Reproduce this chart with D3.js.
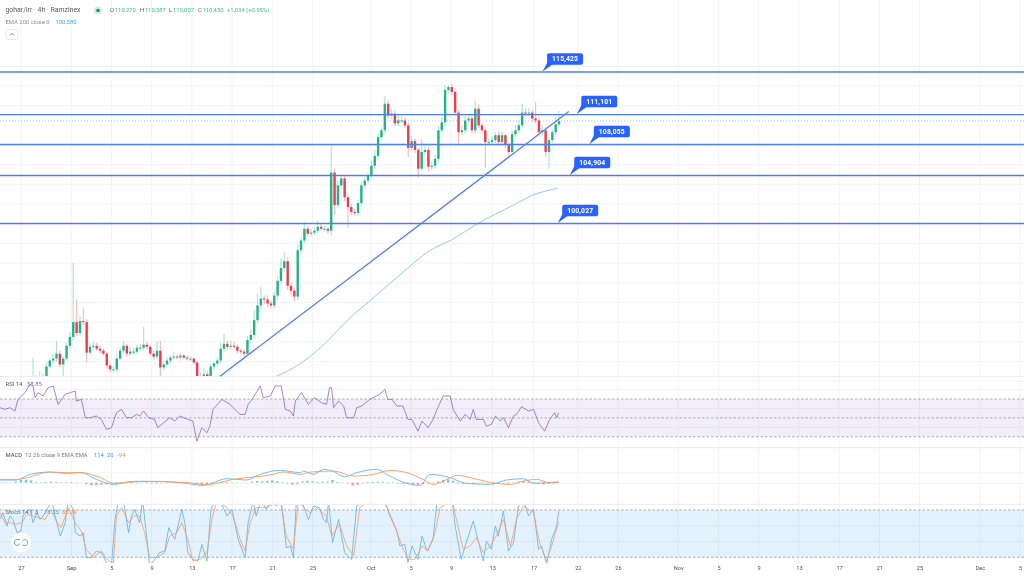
<!DOCTYPE html>
<html><head><meta charset="utf-8">
<script src="https://cdn.jsdelivr.net/npm/d3@7/dist/d3.min.js"></script>
<style>html,body{margin:0;background:#fff}svg{display:block;filter:blur(.35px)}text{font-family:Roboto,Inter,sans-serif}</style>
</head><body><svg id="c" width="1024" height="576"></svg>
<script>
// day offsets are measured from 27 Aug on the chart's session time axis
const tickLabels=["27","Sep","5","9","13","17","21","25","Oct","5","9","13","17","22","26","Nov","5","9","13","17","21","25","Dec","5"];
const tickDays=[0,5,9,13,17,21,25,29,34.8,38.8,42.8,46.9,51,55.4,59.4,65.4,69.4,73.4,77.4,81.4,85.4,89.4,95.4,99.4];
const priceGrid=[88,90,92,94,96,98,100,102,104,106,108,110,112,114,84,86,116];
const levels=[115.425,111.101,108.055,104.904,100.027];
const levelLabels=["115,425","111,101","108,055","104,904","100,027"];
const levelLabelDays=[51.95,55.35,56.6,54.65,53.45];
const lastClose=110.45;
const trendDays=[19.8,54.5];
const trendPrices=[84.5,111.4];
const firstBarDay=1.2;
const barStep=1/3;
const closes=[84.1,84.3,84.4,84.2,85.5,86.1,86.3,86.8,85.7,86.3,87.6,88.5,90.0,88.9,90.1,90.0,86.9,87.5,87.6,87.3,87.1,86.8,85.6,85.2,85.2,86.3,87.1,87.6,86.8,87.0,87.0,87.4,87.4,87.7,87.5,86.8,86.5,87.1,85.4,85.7,86.1,86.4,86.5,86.4,86.6,86.4,86.3,86.3,85.9,84.4,84.5,84.7,84.3,85.5,85.8,86.1,87.3,87.8,87.5,87.6,87.5,87.1,87.0,86.8,88.2,88.7,90.2,91.7,92.4,92.3,91.9,91.7,92.7,94.2,95.5,96.2,93.7,93.2,92.6,97.3,98.3,99.5,99.0,99.1,99.3,99.7,99.5,99.5,99.3,105.2,101.9,103.9,104.6,102.7,101.7,101.2,101.1,102.1,103.9,104.4,104.9,105.9,106.9,108.8,109.5,112.2,111.0,111.2,110.2,110.5,110.5,110.0,107.7,108.4,107.5,105.6,107.3,107.5,105.8,105.9,106.6,109.5,110.3,113.6,113.9,113.4,111.3,109.3,109.5,110.5,110.7,109.5,111.7,110.0,109.5,108.3,108.3,108.5,109.0,108.3,109.0,108.0,107.3,109.1,109.5,110.0,111.3,111.2,111.3,110.7,110.5,109.3,109.5,107.3,108.5,109.3,110.1,110.45];
const upperWicks=[2.3,.3,.6,.3,.4,.3,.5,1.3,.3,.2,.3,.5,6,2.3,.5,1.3,.3,.4,.4,.3,.3,.2,.2,.3,.3,.4,.3,.5,.2,.5,.4,.3,.4,1.8,.3,.2,.3,.9,1,.3,.3,.2,.5,.2,.3,.2,.2,.2,.1,.2,.4,.6,.3,.3,.2,.3,.6,1,.3,.5,.4,.2,.2,.2,.4,.5,1,1.2,1.2,.3,.4,.3,.4,.5,1,.9,.4,.3,.3,.6,.4,.7,.3,.4,.3,.6,.3,.3,.2,2.8,.4,.5,.3,.3,.3,.3,.3,.3,.4,.4,.3,.5,.6,.4,.3,.8,.3,.5,.3,.6,.5,.3,.3,.5,.3,.2,1.4,.5,.3,.4,.4,.4,.5,.5,.2,.3,.4,.3,.4,.5,.5,.3,.8,.4,.3,.3,.4,.4,.3,.4,.4,.2,.2,.3,.5,.5,.9,.4,.5,.3,1.7,.3,.4,.3,.3,.3,.8,1];
const lowerWicks=[.3,.3,.3,.3,.3,.2,.3,.3,.3,1.2,.2,.3,.4,.3,.3,.3,1,.2,.3,.2,.3,.2,.3,.3,.2,.3,.2,.3,.3,.2,.3,.2,.3,.3,.3,.2,.3,.3,1.4,.3,.2,.3,.2,.2,.3,.2,.2,.3,.2,.3,.3,.3,.3,.2,.3,.2,.3,.3,.3,.3,.2,.3,.2,.3,.2,.3,.4,.3,.3,.4,.4,.3,.3,.4,.3,.3,.4,.5,.5,.4,.3,.3,.3,.3,.3,.3,.2,.3,.3,.5,1,.3,.3,.4,2.1,.3,.3,.3,.3,.3,.3,.3,.3,.4,.3,.3,.3,.4,.3,.3,.3,.3,.9,.3,.3,.9,.3,.3,.5,.3,.3,.3,.3,.3,.3,.3,.3,1.3,.3,.3,.3,.3,.3,.3,.3,2.6,.3,.3,.3,.3,.3,.3,.6,.3,.3,.3,.3,.3,.3,.3,.3,.3,.3,.5,1.7,.3,.3,.2];
const emaDays=[25.4,27.5,29.8,32.7,35.2,37.7,40.7,42.9,45.4,49,50.9,53.4];
const emaValues=[84.5,85.6,87.4,90.4,92.6,94.8,97.3,98.4,100.0,101.9,102.9,103.6];
const rsiDays=[-2.1,-1.6,-1.1,-.6,-.3,.4,.9,1.2,1.4,1.7,2.2,2.7,3.2,3.7,4.4,4.9,5.4,5.5,6,6.4,6.9,7.5,8,8.5,9,9.5,10,10.5,11,11.5,11.8,12.2,12.7,13.3,13.6,14.2,14.8,15.3,15.8,16.6,17.1,17.5,18,18.5,18.8,19.1,20,20.8,21.1,21.8,22.3,22.6,23.1,23.8,24.1,24.8,25.3,25.9,26.3,26.8,27.1,27.3,27.9,28.6,29.2,29.9,30.4,30.7,30.9,31.1,31.6,32.1,32.4,33.1,33.4,33.9,34.7,35.7,36.2,36.5,36.9,37.4,38,38.5,38.9,39.5,39.9,40.5,41,41.4,42,42.7,43,43.7,44.2,44.7,45,45.3,46,46.3,46.8,47.2,47.7,48,48.5,49,49.3,49.8,50.5,51,51.5,52.1,52.6,53.1,53.3,53.5];
const rsiValues=[60.8,59,60.8,57.3,69.6,76.7,85.6,83.8,71.4,76.7,73.2,82,83.8,64.3,75,76.7,78.5,67.9,69.6,50.2,50.2,52,48.4,37.8,39.6,55.5,59,50.2,50.2,53.7,52,57.3,50.2,48.4,39.6,44.9,50.2,46.7,52,48.4,46.7,25.4,39.6,34.3,41.3,59,69.6,64.3,60.8,53.7,53.7,64.3,71.4,83.8,71.4,73.2,83.8,83.8,59,57.3,52,67.9,76.7,64.3,71.4,66.1,64.3,82,82,60.8,67.9,62.6,50.2,50.2,60.8,62.6,69.6,75,80.3,69.6,69.6,62.6,62.6,48.4,48.4,36,46.7,39.6,48.4,59,73.2,73.2,59,46.7,53.7,48.4,59,48.4,48.4,41.3,43.1,52,46.7,50.2,39.6,52,53.7,61.9,57.3,59,44.9,36,48.4,55.5,50.2,55.5];
const macdDays=[-2.1,-.5,.9,2.9,4.5,6,7.5,9.2,11.2,13.8,16.5,18.1,20.5,22.4,23.8,25.8,27.8,28.1,29.1,30.1,31,32.2,33.4,35.4,36.4,38,39.7,40.7,42.7,44.3,46.7,48.3,50,51,52.4,53.5];
const macdValues=[400,400,1250,1600,1400,1500,500,-250,200,200,-100,-400,600,400,1250,1850,1500,1750,1250,2000,1750,900,1500,2000,1250,100,-400,1250,750,-100,-250,400,600,-100,0,100];
const signalDays=[-2.1,-.4,2.9,4.5,6,8,9.2,12.2,16.5,18.5,21.1,25.1,26.1,27.8,28.8,31.1,33.1,35.1,36.7,38.4,40,41,42.4,43.4,45.4,47.3,48.7,50,51.3,52.6,53.5];
const signalValues=[500,500,1600,1500,1500,700,-100,200,0,-300,500,1250,1600,1250,1600,1750,1000,1250,1850,1500,500,-250,500,1100,500,-100,-250,250,500,0,100];
const histogramValues=[40,40,30,200,400,450,350,120,60,100,150,100,60,80,100,60,30,-200,-350,-400,-300,-250,-150,100,120,100,80,60,40,100,-100,-120,-80,-60,-40,-80,-60,-40,20,-150,-250,-200,-100,60,150,100,60,40,30,-30,150,250,200,300,350,250,100,-100,-300,-200,200,300,200,100,150,150,400,100,50,-80,-400,-300,-80,100,120,150,120,100,80,-100,-150,-200,-250,-300,-250,-100,-60,200,400,500,300,-100,-150,-100,-200,-100,-50,-100,-200,-100,-80,-150,-60,150,250,200,100,-100,-250,-200,-100,60];
const kDays=[-2.1,-1.8,-1.4,-1.1,-.8,-.4,0,.2,.6,.9,1.2,1.6,1.9,2.2,2.7,3.05,3.4,3.9,4.4,4.7,5.2,5.4,5.9,6.2,6.5,7,7.5,8,8.5,9,9.35,9.7,10.2,10.7,11,11.3,11.8,12.1,12.5,12.8,13.3,13.8,14.3,14.7,15.3,15.7,16,16.3,16.6,17.1,17.6,18,18.5,18.9,19.3,19.8,20.5,21,21.6,22.3,22.6,23.1,23.4,23.9,24.4,24.9,25.4,25.9,26.4,26.8,27.1,27.4,27.9,28.6,29.1,29.7,30.1,30.4,30.6,31,31.6,32.2,32.9,33.4,34.4,35.4,36.2,36.7,37.4,37.7,38.2,38.5,38.9,39.5,39.9,40.4,41,41.4,41.7,42.9,43.2,43.8,44.3,45,45.7,46,46.3,46.8,47.2,47.5,48,48.5,49,49.5,50,50.5,51,51.5,51.8,52.3,52.8,53.3,53.5];
const kValues=[68.1,76.6,59.7,72.4,68.1,51.3,53.4,72.4,78.7,80.8,63.9,76.6,68.1,72.4,83,92,72.4,47,63.9,92,80.8,51.3,47,51.3,19.6,19.6,28,25.9,13.3,9,68.1,92,92,51.3,72.4,80.8,63.9,92,47,9,17.5,26,28,57.6,42.8,63.9,80.8,63.9,26,17.5,15.4,36.5,15.4,80.8,92,92,72.4,80.8,42.8,19.6,63.9,92,72.4,92,80.8,92,85,92,32,34,19.6,92,92,68.1,85,83,68.1,63.9,92,38.6,68.1,26,17.5,85,92,92,92,72.4,53.4,34.4,36.5,13.3,34.4,17.5,47,28,42.8,92,92,92,59.7,17.5,38.6,66,30.2,15.4,40.7,30.2,59.7,47,78.7,28,38.6,85,92,72.4,80.8,30.2,34.4,11.2,42.8,59.7,78.35];
const dDays=[-2.1,-1.6,-1.1,-.6,.1,.6,1.2,1.7,2.4,3,3.5,4,4.7,5.4,6,6.5,7.2,8,8.7,9.2,9.5,10,10.7,11.2,11.8,12.3,12.8,13.5,14.3,14.8,15.5,16,16.6,17.1,17.8,18.5,19,19.5,20.5,21.1,21.8,22.3,22.8,23.4,24.4,25.8,26.4,27.1,27.6,28.3,28.8,29.4,30.4,30.9,31.7,32.4,33.1,33.7,34.7,36,36.5,37.2,37.9,38.5,39.2,39.9,40.5,41.2,41.7,42.9,43.4,44,44.7,45.3,46,46.7,47.3,48,48.7,49.3,50,51,51.6,52.3,52.8,53.5];
const dValues=[76.6,63.9,63.9,61.8,63.9,74.5,72.4,70.3,68.1,80.8,66,57.6,83,63.9,53.4,30.2,19.6,28,15.4,13.3,72.4,83,63.9,72.4,72.4,51.3,19.6,19.6,26,47,51.3,63.9,42.8,15.4,17.5,26,68.1,92,83,72.4,42.8,28,63.9,83,83,92,47,30,92,80.8,76.6,83,72.4,47,61.8,34.4,21.7,83,92,92,80.8,59.7,34.4,17.5,17.5,34.4,28,51.3,83,92,63.9,30.2,34.4,44.9,26,34.4,47,68.1,34.4,68.1,85,76.6,38.6,15.4,34.4,65.29];
const rsiBands=[70,50,30];
const rsiGrid=[80,60,40];
const macdGrid=[1500,-100];
const stochBands=[80,20];
const stochGrid=[60,40];
const headerValues=["O","110,270","H","110,587","L","110,007","C","110,450","+1,034 (+0.95%)"];

const W=1024;
const x=d3.scaleLinear().domain([0,99.4]).range([21,1020]);
const yP=d3.scaleLinear().domain([100.027,115.425]).range([223.5,72]);
const yR=d3.scaleLinear().domain([30,70]).range([436.8,399]);
const yM=d3.scaleLinear().domain([0,1500]).range([482.7,472.7]);
const yS=d3.scaleLinear().domain([20,80]).range([557.3,510]);
const UP="#22b488",DN="#f23a4a",LV="#4d7ff2";
const svg=d3.select("#c");
const defs=svg.append("defs");
function clip(id,y0,y1){defs.append("clipPath").attr("id",id).append("rect").attr("x",0).attr("y",y0).attr("width",W).attr("height",y1-y0);}
clip("cm",0,376);clip("cr",377,447);clip("cd",448,504);clip("cs",505,563);

// grid
const grid=svg.append("g").attr("stroke","#f3f4f6").attr("stroke-width",1);
grid.selectAll(".v").data(tickDays).join("line").attr("x1",d=>x(d)).attr("x2",d=>x(d)).attr("y1",0).attr("y2",563);
function hg(arr,sc){grid.selectAll(null).data(arr).join("line").attr("x1",0).attr("x2",W).attr("y1",d=>sc(d)).attr("y2",d=>sc(d));}
hg(priceGrid,yP);hg(rsiGrid,yR);hg(macdGrid,yM);hg(stochGrid,yS);

// RSI / stoch backgrounds
svg.append("rect").attr("x",0).attr("width",W).attr("y",yR(70)).attr("height",yR(30)-yR(70)).attr("fill","#7e57c2").attr("opacity",.1);
svg.append("rect").attr("x",0).attr("width",W).attr("y",yS(80)).attr("height",yS(20)-yS(80)).attr("fill","#2196f3").attr("opacity",.12);
const dash=svg.append("g").attr("stroke","#a5a7ad").attr("stroke-width",.9).attr("stroke-dasharray","2.5 2");
dash.selectAll(null).data(rsiBands).join("line").attr("x1",0).attr("x2",W).attr("y1",d=>yR(d)).attr("y2",d=>yR(d));
dash.selectAll(null).data(stochBands).join("line").attr("x1",0).attr("x2",W).attr("y1",d=>yS(d)).attr("y2",d=>yS(d));
// separators
svg.append("g").attr("stroke","#eceef1").attr("stroke-width",1.2).selectAll("line").data([376.5,447.6,504.3]).join("line").attr("x1",0).attr("x2",W).attr("y1",d=>d).attr("y2",d=>d);

// candles
const bars=closes.map((c,i)=>{const o=i?closes[i-1]:c;return{day:firstBarDay+i*barStep,o,c,h:Math.max(o,c)+upperWicks[i],l:Math.min(o,c)-lowerWicks[i]};});
const cg=svg.append("g").attr("clip-path","url(#cm)");
cg.selectAll(".w").data(bars).join("line").attr("x1",d=>x(d.day)).attr("x2",d=>x(d.day)).attr("y1",d=>yP(d.h)).attr("y2",d=>yP(d.l))
  .attr("stroke",d=>d.c>=d.o?UP:DN).attr("stroke-opacity",.35).attr("stroke-width",1.2);
cg.selectAll(".b").data(bars).join("rect").attr("x",d=>x(d.day)-1.2).attr("width",2.4)
  .attr("y",d=>Math.min(yP(d.o),yP(d.c))).attr("height",d=>Math.max(1,Math.abs(yP(d.o)-yP(d.c))))
  .attr("fill",d=>d.c>=d.o?UP:DN);

// EMA
const ln=(sc,days)=>d3.line().x((d,i)=>x(days[i])).y(d=>sc(d));
cg.append("path").attr("d",ln(yP,emaDays).curve(d3.curveMonotoneX)(emaValues)).attr("fill","none").attr("stroke","#90caf9").attr("stroke-width",1);

// current price dotted
svg.append("line").attr("x1",0).attr("x2",W).attr("y1",yP(lastClose)).attr("y2",yP(lastClose)).attr("stroke","#22b488").attr("stroke-opacity",.5).attr("stroke-dasharray","1 2");

// levels
svg.append("g").selectAll("line").data(levels).join("line").attr("x1",0).attr("x2",W).attr("y1",d=>yP(d)).attr("y2",d=>yP(d)).attr("stroke",LV).attr("stroke-width",1.3);
// trend
svg.append("path").attr("d",ln(yP,trendDays)(trendPrices)).attr("stroke",LV).attr("stroke-width",1.3).attr("fill","none");
// callouts
const co=svg.append("g").selectAll("g").data(levels).join("g").attr("transform",(d,i)=>`translate(${x(levelLabelDays[i])},${yP(d)})`);
co.append("path").attr("d","M-0.5,-0.5L4.5,-10L10,-8Z").attr("fill","#2962ff");
co.append("rect").attr("x",4).attr("y",-18.7).attr("width",36).attr("height",11.5).attr("rx",2).attr("fill","#2962ff");
co.append("text").attr("x",22).attr("y",-10.6).attr("text-anchor","middle").attr("fill","#fff").attr("font-size",6.8).attr("font-weight",700).attr("letter-spacing",.15).text((d,i)=>levelLabels[i]);

// RSI
svg.append("path").attr("clip-path","url(#cr)").attr("d",ln(yR,rsiDays)(rsiValues)).attr("fill","none").attr("stroke","#8a66cc").attr("stroke-width",.8);

// MACD
const md=svg.append("g").attr("clip-path","url(#cd)");
md.selectAll("rect").data(histogramValues).join("rect").attr("x",(d,i)=>x(-2+i*.5)-1.2).attr("width",2.4)
  .attr("y",d=>Math.min(yM(d),yM(0))).attr("height",d=>Math.abs(yM(d)-yM(0)))
  .attr("fill",d=>d>=0?"#26a69a":"#ef5350").attr("opacity",.6);
md.append("path").attr("d",ln(yM,macdDays).curve(d3.curveMonotoneX)(macdValues)).attr("fill","none").attr("stroke","#64b5f6").attr("stroke-width",.9);
md.append("path").attr("d",ln(yM,signalDays).curve(d3.curveMonotoneX)(signalValues)).attr("fill","none").attr("stroke","#fb9a5c").attr("stroke-width",.9);

// Stoch
const st=svg.append("g").attr("clip-path","url(#cs)");
st.append("path").attr("d",ln(yS,kDays)(kValues)).attr("fill","none").attr("stroke","#58aef2").attr("stroke-width",.8);
st.append("path").attr("d",ln(yS,dDays)(dValues)).attr("fill","none").attr("stroke","#fb9a5c").attr("stroke-width",.8);

// x axis
const ax=svg.append("g").attr("transform","translate(0,565)").call(d3.axisBottom(x).tickValues(tickDays).tickSize(0).tickFormat((d,i)=>tickLabels[i]));
ax.select(".domain").remove();
ax.selectAll("text").attr("font-size",5.6).attr("fill","#4a4e57").attr("font-family","Roboto,Inter,sans-serif").attr("dy",".4em");

// header texts
function T(px,py,s,c,fs=5.9,w=400){return svg.append("text").attr("x",px).attr("y",py).attr("fill",c).attr("font-size",fs).attr("font-weight",w).text(s);}
T(5.5,12.3,"gohar/irr · 4h · Ramzinex","#555a63",6.9);
svg.append("circle").attr("cx",98).attr("cy",10.5).attr("r",4).attr("fill","#26a69a").attr("opacity",.2);
svg.append("circle").attr("cx",98).attr("cy",10.5).attr("r",1.8).attr("fill","#089981");
const G="#3cbf98";
T(110,12,headerValues[0],"#555a63");T(114.8,12,headerValues[1],G);
T(140,12,headerValues[2],"#555a63");T(144.8,12,headerValues[3],G);
T(169,12,headerValues[4],"#555a63");T(173,12,headerValues[5],G);
T(198,12,headerValues[6],"#555a63");T(202.5,12,headerValues[7],G);
T(227,12,headerValues[8],G);
T(5.5,24.3,"EMA 200 close 0","#8a8e96");
T(55.5,24.3,"100,580","#42a5f5");
svg.append("rect").attr("x",6).attr("y",29.5).attr("width",12).attr("height",10).attr("rx",1.5).attr("fill","#fff").attr("stroke","#dcdee2").attr("stroke-width",.7);
svg.append("path").attr("d","M10,35.4L12,33.4L14,35.4").attr("fill","none").attr("stroke","#555").attr("stroke-width",.7);

T(5.5,385.5,"RSI 14","#555a63");T(27,385.5,"58.85","#8a66cc");
T(5.5,457,"MACD","#444851");T(25,457,"12 26 close 9 EMA EMA","#777b83");
T(94,457,"114","#26a69a");T(107,457,"20","#42a5f5");T(117,457,"-94","#fb8c3c");
T(5.5,513.5,"Stoch 14 1 3","#666a72");T(44,513.5,"78.35","#42a5f5");T(62,513.5,"65.29","#fb8c3c");

// link badge
svg.append("circle").attr("cx",21).attr("cy",542.5).attr("r",10).attr("fill","#fff");
svg.append("path").attr("d","M20,543.5a3,3 0 1 1 -2,-4l2,0.5").attr("fill","none").attr("stroke","#22b488").attr("stroke-width",.9);
svg.append("path").attr("d","M22,541.5a3,3 0 1 1 2,4l-2,-0.5").attr("fill","none").attr("stroke","#4aa3df").attr("stroke-width",.9);
</script></body></html>
